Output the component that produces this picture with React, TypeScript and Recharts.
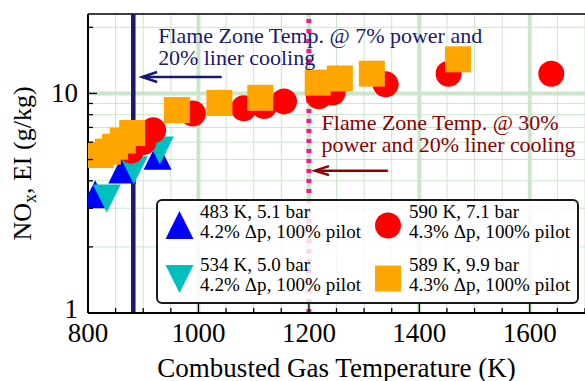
import React from 'react';
import {
  ScatterChart,
  Scatter,
  XAxis,
  YAxis,
  CartesianGrid,
  ReferenceLine,
  ReferenceDot,
  Legend,
} from 'recharts';

const FONT = '"Liberation Serif", "Times New Roman", Times, serif';

// combusted gas temperature (K) vs NOx emission index (g/kg), one pair of arrays per inlet condition
const temp483 = [813, 862, 926];
const nox483 = [3.47, 4.5, 5.2];

const temp534 = [834, 883, 930];
const nox534 = [3.32, 4.47, 5.5];

const temp590 = [878, 900, 918, 990, 1082, 1119, 1155, 1218, 1243, 1339, 1453, 1639];
const nox590 = [5.5, 6.0, 6.8, 8.1, 8.55, 8.76, 9.2, 9.7, 10.1, 11.0, 12.3, 12.3];

const temp589 = [823, 836, 849, 863, 880, 961, 1038, 1112, 1216, 1256, 1314, 1470];
const nox589 = [5.24, 5.43, 5.72, 6.1, 6.6, 8.4, 9.05, 9.55, 11.2, 11.7, 12.3, 14.3];

const legendText = [
  ['483 K, 5.1 bar', '4.2% Δp, 100% pilot'],
  ['534 K, 5.0 bar', '4.2% Δp, 100% pilot'],
  ['590 K, 7.1 bar', '4.3% Δp, 100% pilot'],
  ['589 K, 9.9 bar', '4.3% Δp, 100% pilot'],
];

const xTicks = [800, 850, 900, 950, 1000, 1050, 1100, 1150, 1200, 1250, 1300, 1350, 1400, 1450, 1500, 1550, 1600, 1650, 1700];
const xLabelled = [800, 1000, 1200, 1400, 1600];
const xMajor = [1000, 1200, 1400, 1600];
const yTicks = [1, 2, 3, 4, 5, 6, 7, 8, 9, 10, 20];
const yLabelled = [1, 10];
const yMajor = [10];

// flame zone temperature markers
const flameTemp7 = 882;
const flameTemp30 = 1200;

const toPoints = (t: number[], v: number[]) => t.map((x, i) => ({ x, y: v[i] }));

const GRID = '#cce6cc';
const NAVY = '#191970';
const DARKRED = '#8b0000';

const TriUp = ({ cx, cy, fill }: any) => (
  <polygon points={`${cx},${cy - 14} ${cx - 14},${cy + 14} ${cx + 14},${cy + 14}`} fill={fill} />
);
const TriDown = ({ cx, cy, fill }: any) => (
  <polygon points={`${cx - 14},${cy - 14} ${cx + 14},${cy - 14} ${cx},${cy + 14}`} fill={fill} />
);
const Dot = ({ cx, cy, fill }: any) => <circle cx={cx} cy={cy} r={13} fill={fill} />;
const Square = ({ cx, cy, fill }: any) => <rect x={cx - 13} y={cy - 13} width={26} height={26} fill={fill} />;

const XTick = ({ x, y, payload }: any) => {
  const v = payload.value;
  const major = v % 200 === 0;
  return (
    <g>
      <line x1={x} x2={x} y1={y} y2={y - (major ? 9 : 5)} stroke="#000" strokeWidth={1.3} />
      {xLabelled.includes(v) && (
        <text x={x} y={y + 29} textAnchor="middle" fontSize={27} fontFamily={FONT} fill="#000">
          {v}
        </text>
      )}
    </g>
  );
};

const YTick = ({ x, y, payload }: any) => {
  const v = payload.value;
  const major = yLabelled.includes(v);
  return (
    <g>
      <line x1={x} x2={x + (major ? 9 : 5)} y1={y} y2={y} stroke="#000" strokeWidth={1.3} />
      {major && (
        <text x={x - 10} y={y + (v === 1 ? 5 : 9)} textAnchor="end" fontSize={27} fontFamily={FONT} fill="#000">
          {v}
        </text>
      )}
    </g>
  );
};

const YTitle = ({ viewBox }: any) => {
  const vb = viewBox || { x: 28, y: 14, width: 60, height: 299 };
  const cx = vb.x + 3;
  const cy = vb.y + vb.height / 2;
  return (
    <text transform={`translate(${cx},${cy}) rotate(-90)`} textAnchor="middle" fontSize={26} fontFamily={FONT} fill="#000">
      NO
      <tspan fontSize={18} dy={5}>x</tspan>
      <tspan dy={-5}>, EI (g/kg)</tspan>
    </text>
  );
};

const XTitle = ({ viewBox }: any) => {
  const vb = viewBox || { x: 88, y: 313, width: 497, height: 30 };
  return (
    <text x={vb.x + vb.width / 2} y={vb.y + 64} textAnchor="middle" fontSize={27} fontFamily={FONT} fill="#000">
      Combusted Gas Temperature (K)
    </text>
  );
};

// multi-line annotation; each line is stretched to its set length
const note = (lines: string[], widths: number[], color: string) => (p: any) => (
  <text x={p.cx} y={p.cy} fill={color} fontSize={22} fontFamily={FONT}>
    {lines.map((l, i) => (
      <tspan key={i} x={p.cx} dy={i === 0 ? 0 : 22} textLength={widths[i]} lengthAdjust="spacing">
        {l}
      </tspan>
    ))}
  </text>
);

const arrow = (head: number, spread: number) => (p: any) => {
  const { x1, y1, x2, y2, stroke } = p;
  return (
    <g>
      <line x1={x1} y1={y1} x2={x2} y2={y2} stroke={stroke} strokeWidth={2.5} />
      <polyline
        points={`${x2 + head},${y2 - spread} ${x2},${y2} ${x2 + head},${y2 + spread}`}
        fill="none"
        stroke={stroke}
        strokeWidth={2.5}
      />
    </g>
  );
};

const LegendBox = () => {
  const rows = [
    { shape: <TriUp cx={24.5} cy={27} fill="#0000ff" />, tx: 45, ty: 20, text: legendText[0] },
    { shape: <TriDown cx={24.5} cy={81} fill="#00bfbf" />, tx: 45, ty: 73, text: legendText[1] },
    { shape: <Dot cx={233} cy={27.5} fill="#ff0000" />, tx: 254, ty: 20, text: legendText[2] },
    { shape: <Square cx={233} cy={80.5} fill="#ffa500" />, tx: 254, ty: 73, text: legendText[3] },
  ];
  return (
    <svg width={425} height={107} style={{ display: 'block' }}>
      <rect x={2} y={2} width={421} height={103} rx={5} fill="#fff" fillOpacity={0.82} stroke="#1a1a1a" strokeWidth={2} />
      {rows.map((r, i) => (
        <g key={i}>
          {r.shape}
          <text x={r.tx} y={r.ty} fontSize={19} fontFamily={FONT} fill="#000">
            <tspan x={r.tx} textLength={110} lengthAdjust="spacing">{r.text[0]}</tspan>
            <tspan x={r.tx} dy={20} textLength={161} lengthAdjust="spacing">{r.text[1]}</tspan>
          </text>
        </g>
      ))}
    </svg>
  );
};

export default function App() {
  return (
    <div style={{ position: 'absolute', left: 0, top: 0, background: '#fff' }}>
      <ScatterChart width={585} height={381} margin={{ top: 14, right: 0, bottom: 38, left: 28 }}>
        <CartesianGrid stroke={GRID} strokeWidth={1} />
        {xMajor.map((v) => (
          <ReferenceLine key={`gx${v}`} x={v} stroke={GRID} strokeWidth={4} />
        ))}
        {yMajor.map((v) => (
          <ReferenceLine key={`gy${v}`} y={v} stroke={GRID} strokeWidth={4} />
        ))}
        <ReferenceLine y={23} stroke="#000" strokeWidth={1.5} />
        <XAxis
          type="number"
          dataKey="x"
          domain={[800, 1700]}
          ticks={xTicks}
          interval={0}
          allowDataOverflow
          height={30}
          tickSize={0}
          tickMargin={0}
          tickLine={false}
          axisLine={{ stroke: '#000', strokeWidth: 2 }}
          tick={<XTick />}
          label={<XTitle />}
        />
        <YAxis
          type="number"
          dataKey="y"
          scale="log"
          domain={[1, 23]}
          ticks={yTicks}
          interval={0}
          allowDataOverflow
          width={60}
          tickSize={0}
          tickMargin={0}
          tickLine={false}
          axisLine={{ stroke: '#000', strokeWidth: 2 }}
          tick={<YTick />}
          label={<YTitle />}
        />
        <ReferenceLine x={flameTemp7} stroke={NAVY} strokeWidth={4.5} />
        <ReferenceLine x={flameTemp30} stroke="#ff1493" strokeWidth={5} strokeDasharray="4 6" />
        <Scatter data={toPoints(temp483, nox483)} fill="#0000ff" shape={TriUp} isAnimationActive={false} />
        <Scatter data={toPoints(temp534, nox534)} fill="#00bfbf" shape={TriDown} isAnimationActive={false} />
        <Scatter data={toPoints(temp590, nox590)} fill="#ff0000" shape={Dot} isAnimationActive={false} />
        <Scatter data={toPoints(temp589, nox589)} fill="#ffa500" shape={Square} isAnimationActive={false} />
        <ReferenceDot
          x={927}
          y={16.9}
          r={0}
          shape={note(['Flame Zone Temp. @ 7% power and', '20% liner cooling'], [324, 157], NAVY)}
        />
        <ReferenceDot
          x={1223}
          y={6.81}
          r={0}
          shape={note(['Flame Zone Temp. @ 30%', 'power and 20% liner cooling'], [237, 254], DARKRED)}
        />
        <ReferenceLine
          segment={[{ x: 1042, y: 11.88 }, { x: 898, y: 11.88 }]}
          stroke={NAVY}
          shape={arrow(15, 5)}
        />
        <ReferenceLine
          segment={[{ x: 1343, y: 4.45 }, { x: 1211, y: 4.45 }]}
          stroke={DARKRED}
          shape={arrow(14, 4.5)}
        />
        <Legend
          layout="horizontal"
          verticalAlign="middle"
          align="center"
          content={<LegendBox />}
          wrapperStyle={{ left: 155, top: 198, width: 425, height: 107 }}
        />
      </ScatterChart>
    </div>
  );
}
